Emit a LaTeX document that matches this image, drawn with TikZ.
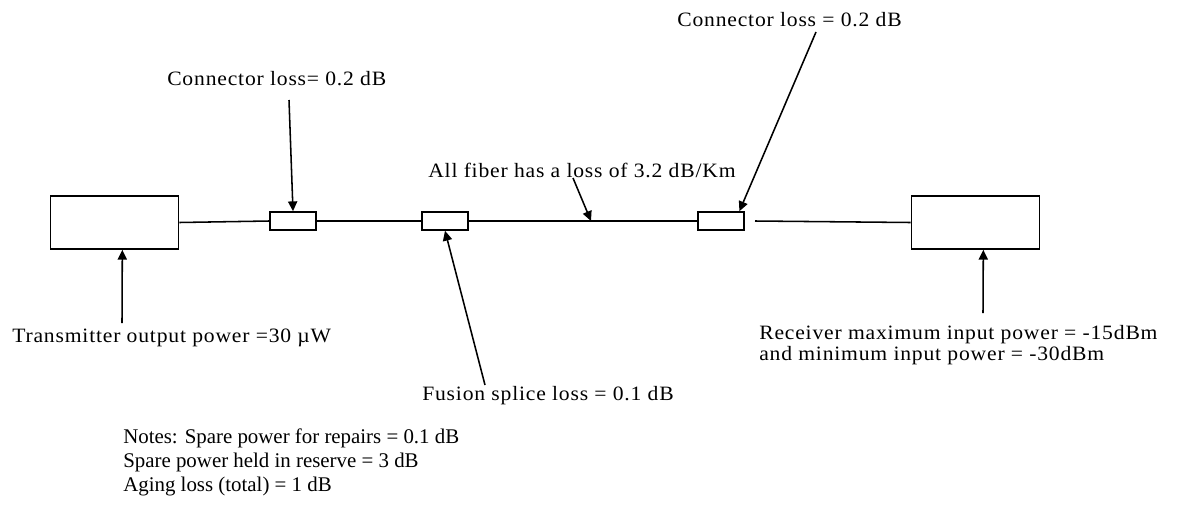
\documentclass[tikz,border=0pt]{standalone}
\usepackage{fontspec}
\setmainfont{Liberation Serif}
\newfontfamily\lblfont[LetterSpace=4, FakeStretch=1.06]{Liberation Serif}
\usetikzlibrary{arrows.meta}

\begin{document}
\begin{tikzpicture}[x=0.025cm, y=-0.025cm,
		unit/.style={draw, line width=1.1pt, minimum width=3.2cm, minimum height=1.325cm, inner sep=0pt},
		joint/.style={draw, line width=1.1pt, minimum width=1.15cm, minimum height=0.45cm, inner sep=0pt},
		lbl/.style={font=\lblfont\fontsize{14.5}{16}\selectfont, inner sep=0pt, anchor=base west},
		note/.style={font=\fontsize{14.85}{17}\selectfont, inner sep=0pt, anchor=base west},
		pointer/.style={line width=1.1pt, -{Triangle[length=7pt, width=6.5pt]}}]
			\useasboundingbox (0,0) rectangle (1179,521);
			% units and joints
			\node[unit] (tx) at (114.5,222.5) {};
			\node[unit] (rx) at (975.5,222.5) {};
			\node[joint] (c1) at (293,221) {};
			\node[joint] (sp) at (445,221) {};
			\node[joint] (c2) at (721,221) {};
			% fiber
			\coordinate (gap) at (755,221);
			\coordinate (fibmid) at (591,221);
			\draw[line width=1.1pt] (tx.east) -- (c1.west) (c1.east) -- (sp.west) (sp.east) -- (c2.west);
			\draw[line width=1.1pt] (gap) -- (rx.west);
			% labels
			\node[lbl] (lc1) at (167,85) {Connector loss= 0.2 dB};
			\node[lbl] (lfib) at (428,177) {All fiber has a loss of 3.2 dB/Km};
			\node[lbl] (lc2) at (677,26) {Connector loss = 0.2 dB};
			\node[lbl] (ltx) at (12,342) {Transmitter output power =30 µW};
			\node[lbl] (lsp) at (422,400) {Fusion splice loss = 0.1 dB};
			\node[lbl] (lrx1) at (759,339) {Receiver maximum input power = -15dBm};
			\node[lbl] (lrx2) at (759,360) {and minimum input power = -30dBm};
			\node[note] (n1) at (123,443) {Notes: Spare power for repairs = 0.1 dB};
			\node[note] (n2) at (123,467) {Spare power held in reserve = 3 dB};
			\node[note] (n3) at (123,491) {Aging loss (total) = 1 dB};
			% pointers
			\coordinate (c1from) at (289,100);
			\coordinate (fibfrom) at (573,178);
			\coordinate (c2from) at (816,32);
			\coordinate (txfrom) at (122,323);
			\coordinate (spfrom) at (485,385);
			\coordinate (rxfrom) at (983,313);
			\draw[pointer] (c1from) -- (c1.north);
			\draw[pointer] (fibfrom) -- (fibmid);
			\draw[pointer] (c2from) -- (c2.28);
			\draw[pointer] (txfrom) -- (tx.-74);
			\draw[pointer] (spfrom) -- (sp.south);
			\draw[pointer] (rxfrom) -- (rx.-74);
		\end{tikzpicture}
\end{document}
